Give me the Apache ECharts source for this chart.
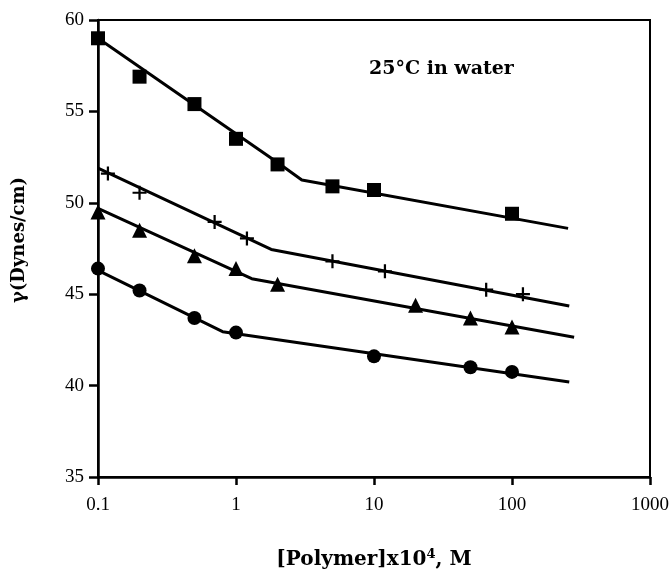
<!DOCTYPE html>
<html>
<head>
<meta charset="utf-8">
<script src="https://cdn.jsdelivr.net/npm/echarts@6/dist/echarts.min.js"></script>
<style>
  html, body { margin: 0; padding: 0; background: #fff; }
  #chart { width: 672px; height: 569px; }
</style>
</head>
<body>
<div id="chart"></div>
<script>
// measured points [concentration x10^4 M, surface tension]
const squarePts = [[0.1, 59.0], [0.2, 56.9], [0.5, 55.4], [1, 53.5], [2, 52.1], [5, 50.9], [10, 50.7], [100, 49.4]]
const plusPts = [[0.118, 51.6], [0.2, 50.55], [0.7, 48.95], [1.2, 48.05], [5, 46.8], [12, 46.25], [65, 45.25], [120, 45.0]]
const trianglePts = [[0.1, 49.5], [0.2, 48.5], [0.5, 47.1], [1, 46.4], [2, 45.55], [20, 44.4], [50, 43.7], [100, 43.2]]
const circlePts = [[0.1, 46.4], [0.2, 45.2], [0.5, 43.7], [1, 42.9], [10, 41.6], [50, 41.0], [100, 40.75]]

// fitted segments drawn through the points
const squareFit = [[0.1, 59.0], [2, 52.2], [3, 51.25], [255, 48.6]]
const plusFit = [[0.1, 51.9], [1.8, 47.45], [260, 44.35]]
const triangleFit = [[0.1, 49.7], [1.3, 45.85], [282, 42.65]]
const circleFit = [[0.1, 46.3], [0.8, 42.95], [260, 40.2]]

const xTicks = [0.1, 1, 10, 100, 1000]
const yTicks = [35, 40, 45, 50, 55, 60]

const font = '"Liberation Serif", "DejaVu Serif", serif'
const titleFont = '"DejaVu Serif", serif'
const plusPath = 'path://M0,4.2 H10 V5.8 H0 Z M4.2,0 H5.8 V10 H4.2 Z'

const chart = echarts.init(document.getElementById('chart'))

function fitLine (data) {
  return {
    type: 'line',
    data: data,
    symbol: 'none',
    silent: true,
    z: 2,
    lineStyle: { color: '#000', width: 3 }
  }
}

function marks (data, symbol, size) {
  return {
    type: 'scatter',
    data: data,
    symbol: symbol,
    symbolSize: size,
    z: 3,
    itemStyle: { color: '#000', opacity: 1 }
  }
}

chart.setOption({
  animation: false,
  backgroundColor: '#fff',
  grid: {
    left: 98,
    top: 20,
    right: 22,
    bottom: 92,
    outerBoundsMode: 'none',
    show: true,
    borderColor: '#000',
    borderWidth: 2
  },
  xAxis: {
    type: 'log',
    logBase: 10,
    min: xTicks[0],
    max: xTicks[xTicks.length - 1],
    name: '[Polymer]x10{sup|4}, M',
    nameLocation: 'middle',
    nameGap: 71,
    nameTextStyle: {
      fontFamily: titleFont,
      fontSize: 20,
      fontWeight: 'bold',
      color: '#000',
      rich: {
        sup: { fontFamily: titleFont, fontSize: 13, fontWeight: 'bold', color: '#000', verticalAlign: 'top', padding: [0, 0, 10, 0] }
      }
    },
    axisLine: { lineStyle: { color: '#000', width: 2.5 } },
    axisTick: { show: true, inside: false, length: 8, lineStyle: { color: '#000', width: 2.5 } },
    minorTick: { show: false },
    splitLine: { show: false },
    axisLabel: {
      fontFamily: font,
      fontSize: 19,
      color: '#000',
      margin: 19,
      formatter: v => String(Math.round(v * 10) / 10)
    }
  },
  yAxis: {
    type: 'value',
    min: yTicks[0],
    max: yTicks[yTicks.length - 1],
    interval: 5,
    splitLine: { show: false },
    axisLine: { show: true, lineStyle: { color: '#000', width: 2.5 } },
    axisTick: { show: true, inside: false, length: 9, lineStyle: { color: '#000', width: 2.5 } },
    axisLabel: { fontFamily: font, fontSize: 19, color: '#000', margin: 14 }
  },
  graphic: [
    {
      type: 'text',
      left: 369,
      top: 60,
      style: { text: '25°C in water', fontFamily: titleFont, fontSize: 19, fontWeight: 'bold', fill: '#000' }
    },
    {
      type: 'text',
      x: 19,
      y: 240,
      rotation: Math.PI / 2,
      style: {
        text: 'γ(Dynes/cm)',
        fontFamily: titleFont,
        fontSize: 18,
        fontWeight: 'bold',
        fill: '#000',
        align: 'center',
        verticalAlign: 'middle'
      }
    }
  ],
  series: [
    fitLine(squareFit),
    fitLine(plusFit),
    fitLine(triangleFit),
    fitLine(circleFit),
    marks(squarePts, 'rect', 14),
    marks(plusPts, plusPath, 14),
    marks(trianglePts, 'triangle', 15),
    marks(circlePts, 'circle', 14)
  ]
})
</script>
</body>
</html>
